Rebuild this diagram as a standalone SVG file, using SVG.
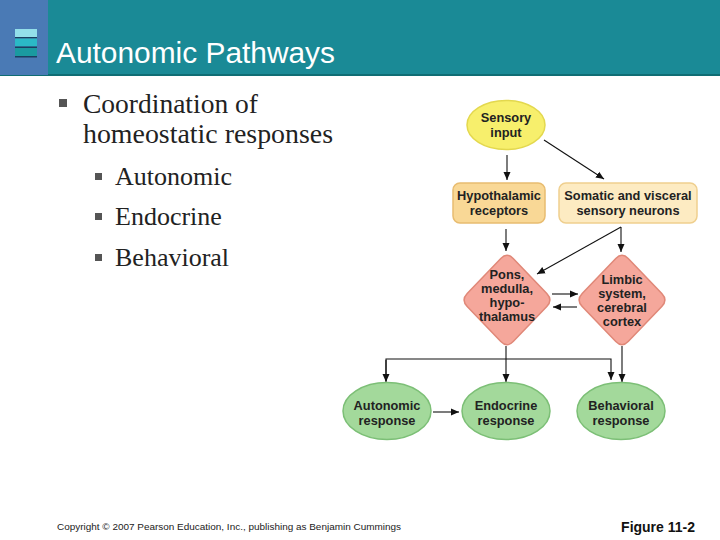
<svg xmlns="http://www.w3.org/2000/svg" width="720" height="540" viewBox="0 0 720 540">
<style>
.lbl{font-family:"Liberation Sans",Arial,sans-serif;font-weight:bold;font-size:12.8px;fill:#222;text-anchor:middle}
.body{font-family:"Liberation Serif","Times New Roman",serif;fill:#222}
.conn{stroke:#111;stroke-width:1.1;fill:none}
.yel{fill:#f7ef6c;stroke:#e3d84e;stroke-width:1.5}
.ora{fill:#f9d896;stroke:#e8bc70;stroke-width:1.5}
.pal{fill:#fdebc2;stroke:#efcf8e;stroke-width:1.5}
.red{fill:#f5a79b;stroke:#e08878;stroke-width:1.5}
.grn{fill:#a3d99b;stroke:#7cbf76;stroke-width:1.5}
.bul{fill:#555}
</style>
<defs>
<marker id="ah" markerUnits="userSpaceOnUse" markerWidth="8" markerHeight="8" viewBox="0 0 8 8" refX="8" refY="4" orient="auto">
<path d="M0,0.5 L8,4 L0,7.5 Z" fill="#111"/>
</marker>
</defs>
<rect width="720" height="540" fill="#fff"/>
<g id="header">
<rect x="0" y="0" width="720" height="76" fill="#0f6d74"/>
<rect x="48" y="0" width="672" height="74" fill="#1a8a96"/>
<rect x="0" y="0" width="48" height="75" fill="#4a7ab5"/>
<rect x="15" y="29" width="22" height="8" fill="#93dfea"/>
<rect x="15" y="37" width="22" height="1.5" fill="#1b3e60"/>
<rect x="15" y="38.5" width="22" height="8" fill="#2bb9c6"/>
<rect x="15" y="46.5" width="22" height="1.5" fill="#1b3e60"/>
<rect x="15" y="48" width="22" height="8" fill="#1a9aa0"/>
<rect x="15" y="56" width="22" height="1.5" fill="#1b3e60"/>
<text x="56" y="63" font-family="'Liberation Sans',Arial,sans-serif" font-size="30" fill="#fff" textLength="279" lengthAdjust="spacingAndGlyphs">Autonomic Pathways</text>
</g>
<g id="bullets">
<rect class="bul" x="59" y="99" width="8" height="8"/>
<text class="body" x="83" y="113" font-size="27.5">Coordination of</text>
<text class="body" x="83" y="143" font-size="27.5" textLength="250" lengthAdjust="spacingAndGlyphs">homeostatic responses</text>
<rect class="bul" x="95" y="173" width="7" height="7"/>
<text class="body" x="115" y="185" font-size="26">Autonomic</text>
<rect class="bul" x="95" y="213" width="7" height="7"/>
<text class="body" x="115" y="225" font-size="26">Endocrine</text>
<rect class="bul" x="95" y="254" width="7" height="7"/>
<text class="body" x="115" y="266" font-size="26">Behavioral</text>
</g>
<g id="connectors">
<line class="conn" x1="507" y1="155" x2="507" y2="180" marker-end="url(#ah)"/>
<line class="conn" x1="544" y1="140" x2="604" y2="179" marker-end="url(#ah)"/>
<line class="conn" x1="506" y1="229" x2="506" y2="251" marker-end="url(#ah)"/>
<line class="conn" x1="621" y1="227" x2="621" y2="252" marker-end="url(#ah)"/>
<line class="conn" x1="621" y1="227" x2="537" y2="274" marker-end="url(#ah)"/>
<line class="conn" x1="552" y1="294" x2="578" y2="294" marker-end="url(#ah)"/>
<line class="conn" x1="577" y1="307" x2="553" y2="307" marker-end="url(#ah)"/>
<polyline class="conn" points="386,381 386,359 611,359 611,380" marker-end="url(#ah)"/>
<line class="conn" x1="386" y1="360" x2="386" y2="382" marker-end="url(#ah)"/>
<line class="conn" x1="506" y1="346" x2="506" y2="382" marker-end="url(#ah)"/>
<line class="conn" x1="622" y1="346" x2="622" y2="382" marker-end="url(#ah)"/>
<line class="conn" x1="433" y1="412" x2="459" y2="412" marker-end="url(#ah)"/>
</g>
<g id="sensory">
<ellipse class="yel" cx="506" cy="125" rx="39" ry="24.5"/>
<text class="lbl" x="506" y="122">Sensory</text>
<text class="lbl" x="506" y="137">input</text>
</g>
<g id="hypothalamic">
<rect class="ora" x="453" y="183" width="92" height="40" rx="7"/>
<text class="lbl" x="499" y="200">Hypothalamic</text>
<text class="lbl" x="499" y="215">receptors</text>
</g>
<g id="somatic">
<rect class="pal" x="559" y="183" width="138" height="40" rx="7"/>
<text class="lbl" x="628" y="200">Somatic and visceral</text>
<text class="lbl" x="628" y="215">sensory neurons</text>
</g>
<g id="pons">
<path class="red" d="M513.2,258.5 L546.8,293.5 Q553,300 546.8,306.5 L513.2,341.5 Q507,348 500.8,341.5 L467.2,306.5 Q461,300 467.2,293.5 L500.8,258.5 Q507,252 513.2,258.5 Z"/>
<text class="lbl" x="507" y="279">Pons,</text>
<text class="lbl" x="507" y="293">medulla,</text>
<text class="lbl" x="507" y="307">hypo-</text>
<text class="lbl" x="507" y="321">thalamus</text>
</g>
<g id="limbic">
<path class="red" d="M628.2,258.5 L661.8,293.5 Q668,300 661.8,306.5 L628.2,341.5 Q622,348 615.8,341.5 L582.2,306.5 Q576,300 582.2,293.5 L615.8,258.5 Q622,252 628.2,258.5 Z"/>
<text class="lbl" x="622" y="284">Limbic</text>
<text class="lbl" x="622" y="298">system,</text>
<text class="lbl" x="622" y="312">cerebral</text>
<text class="lbl" x="622" y="326">cortex</text>
</g>
<g id="autonomic">
<ellipse class="grn" cx="387" cy="411" rx="44" ry="28.5"/>
<text class="lbl" x="387" y="410">Autonomic</text>
<text class="lbl" x="387" y="425">response</text>
</g>
<g id="endocrine">
<ellipse class="grn" cx="506" cy="411" rx="44" ry="28.5"/>
<text class="lbl" x="506" y="410">Endocrine</text>
<text class="lbl" x="506" y="425">response</text>
</g>
<g id="behavioral">
<ellipse class="grn" cx="621" cy="411" rx="44" ry="28.5"/>
<text class="lbl" x="621" y="410">Behavioral</text>
<text class="lbl" x="621" y="425">response</text>
</g>
<g id="footer">
<text x="57" y="530" font-family="'Liberation Sans',Arial,sans-serif" font-size="9.5" fill="#222" textLength="344" lengthAdjust="spacingAndGlyphs">Copyright © 2007 Pearson Education, Inc., publishing as Benjamin Cummings</text>
<text x="695" y="532" text-anchor="end" font-family="'Liberation Sans',Arial,sans-serif" font-weight="bold" font-size="14" fill="#111">Figure 11-2</text>
</g>
</svg>
